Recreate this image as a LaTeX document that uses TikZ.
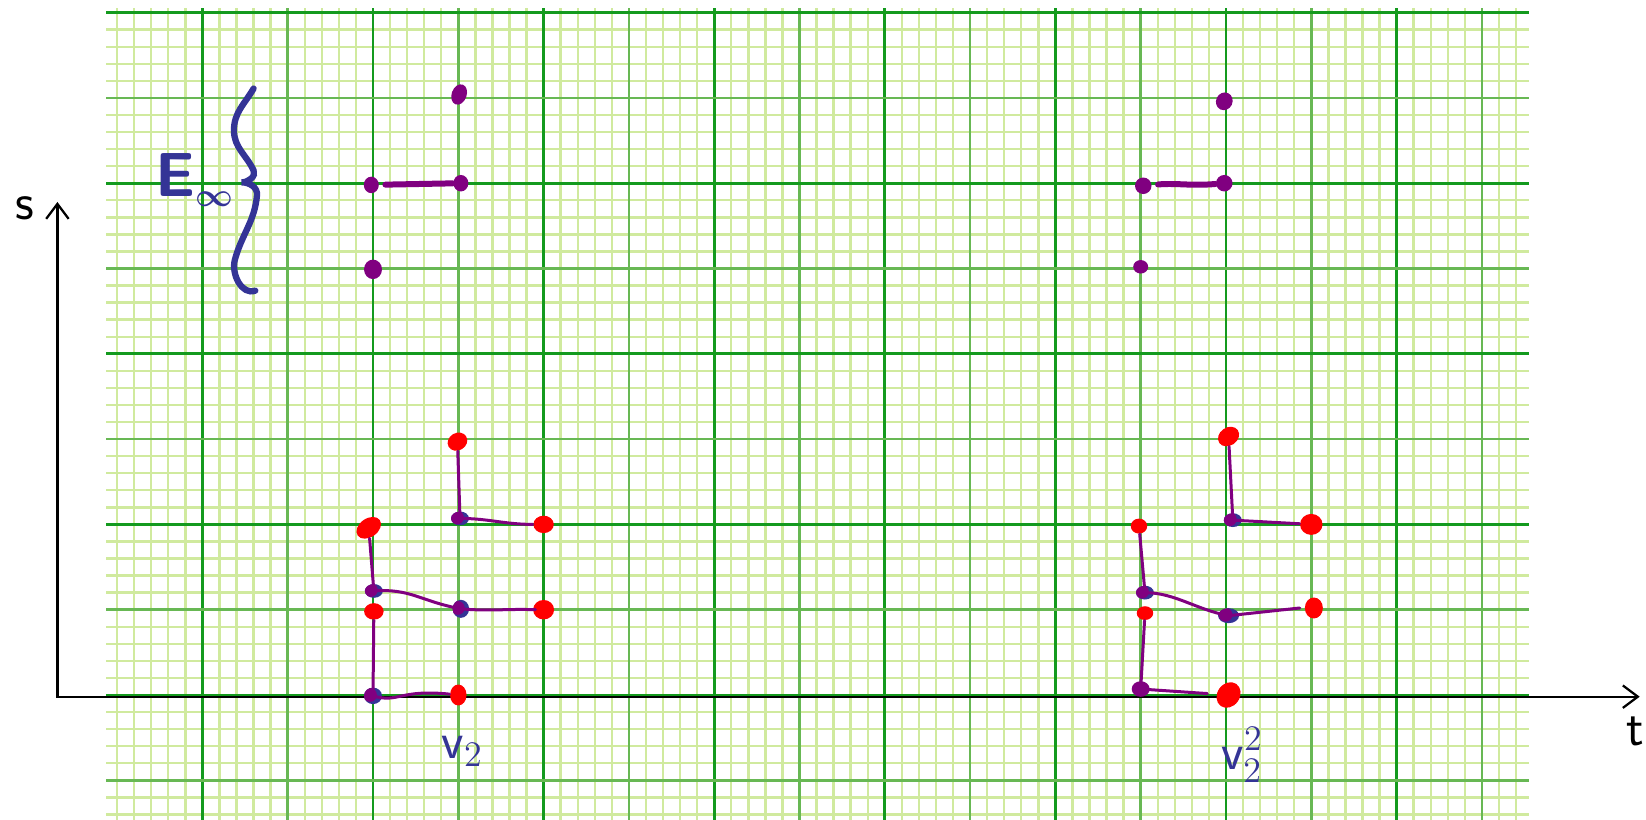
\documentclass[tikz,border=0pt]{standalone}
\usetikzlibrary{arrows.meta,shapes.geometric}

\definecolor{gridminor}{RGB}{208,234,158}
\definecolor{gridmid}{RGB}{104,184,84}
\definecolor{gridmajor}{RGB}{20,154,30}
\definecolor{inkpurple}{RGB}{128,0,128}
\definecolor{inkblue}{RGB}{52,52,150}
\definecolor{inkred}{RGB}{255,0,0}

\begin{document}
\begin{tikzpicture}[
    minorline/.style={gridminor, line width=0.8pt},
    midline/.style={gridmid, line width=0.85pt},
    majorline/.style={gridmajor, line width=0.95pt},
    axis/.style={black, line width=0.75pt,
        {Straight Barb[length=5pt,width=7.5pt]}-{Straight Barb[length=5pt,width=7.5pt]}},
    pdot/.style={ellipse, fill=inkpurple, inner sep=0pt,
        minimum width=5pt, minimum height=5.5pt},
    rdot/.style={ellipse, fill=inkred, inner sep=0pt,
        minimum width=6.8pt, minimum height=5.8pt},
    jdot/.style={ellipse, fill=inkblue, inner sep=0pt,
        minimum width=6pt, minimum height=4.6pt,
        path picture={\fill[inkpurple]
            ([xshift=-1pt,yshift=0.3pt]path picture bounding box.center) circle (2.3pt);}},
    topline/.style={inkpurple, line width=2pt, line cap=round},
    link/.style={inkpurple, line width=1pt, line cap=round},
    hand/.style={inkblue, inner sep=0pt}
]
    \useasboundingbox (-4.373,-1.465) rectangle (14.924,8.148);
    \fill[white] (-4.373,-1.465) rectangle (14.924,8.148);

    % Graph paper
    \foreach \i in {-15,...,67}
        \draw[minorline] ({\i/5},-1.47) -- ({\i/5},8.05);
    \foreach \j in {-7,...,39}
        \draw[minorline] (-3.13,{\j/5}) -- (13.55,{\j/5});
    \foreach \x in {-1,1,...,13}
        \draw[midline] (\x,-1.47) -- (\x,8.05);
    \foreach \x in {-2,0,...,12}
        \draw[majorline] (\x,-1.47) -- (\x,8.05);
    \foreach \y in {-1,1,...,7}
        \draw[midline] (-3.13,\y) -- (13.55,\y);
    \foreach \y in {0,2,...,8}
        \draw[majorline] (-3.13,\y) -- (13.55,\y);

    % Axes
    \coordinate (stip) at (-3.70,5.78);
    \coordinate (ttip) at (14.85,-0.02);
    \draw[axis] (stip) |- (ttip);
    \node[font=\fontsize{19}{19}\selectfont] (slab) at (-4.08,5.70) {$\mathsf{s}$};
    \node[font=\fontsize{16}{16}\selectfont] (tlab) at (14.80,-0.42) {$\mathsf{t}$};

    % E infinity brace
    \node[hand, anchor=base west, font=\fontsize{22}{22}\selectfont\boldmath]
        (einf) at (-2.56,5.84) {$\mathsf{E}_{\scriptscriptstyle\infty}$};
    \draw[inkblue, line width=2.1pt, line cap=round]
        (-1.40,7.11) to[out=240,in=90] (-1.63,6.62)
        to[out=270,in=115] (-1.40,6.15) to[out=295,in=0] (-1.54,6.01)
        to[out=0,in=85] (-1.36,5.86) to[out=265,in=75] (-1.62,5.10)
        to[out=255,in=200] (-1.38,4.74);

    % Top rows, left
    \node[pdot, minimum width=5pt, minimum height=7pt, rotate=-20] (l17) at (1.01,7.04) {};
    \node[pdot] (l06) at (-0.02,5.98) {};
    \node[pdot] (l16) at (1.03,6.00) {};
    \node[pdot, minimum width=6pt, minimum height=6.5pt] (l05) at (0.00,4.99) {};
    \draw[topline, shorten <=2pt] (l06) -- (l16);

    % Top rows, right
    \node[pdot, minimum width=5.5pt, minimum height=6pt, rotate=-25] (r107) at (9.98,6.96) {};
    \node[pdot, minimum width=5.5pt] (r96) at (9.03,5.97) {};
    \node[pdot, minimum width=5.5pt] (r106) at (9.98,6.00) {};
    \node[pdot, minimum width=5pt, minimum height=4.5pt] (r95) at (9.00,5.02) {};
    \draw[topline, shorten <=2pt] (r96) to[out=5,in=185] (r106);

    % Bottom rows, left
    \node[rdot, rotate=30] (rl13) at (0.99,2.97) {};
    \node[rdot] (rl22) at (2.00,2.00) {};
    \node[rdot, minimum width=9pt, minimum height=6.2pt, rotate=35] (rl02) at (-0.05,1.96) {};
    \node[rdot, minimum width=7pt, minimum height=6.5pt] (rl21) at (2.00,1.00) {};
    \node[rdot, minimum width=6.5pt, minimum height=5.5pt] (rl01) at (0.01,0.98) {};
    \node[rdot, minimum width=5.5pt, minimum height=7pt] (rl10) at (1.00,0.00) {};
    \node[jdot] (jl12) at (1.02,2.07) {};
    \node[jdot] (jl01) at (0.01,1.22) {};
    \node[jdot, minimum width=5.5pt, minimum height=6pt] (jl11) at (1.03,1.01) {};
    \node[jdot, minimum height=5.5pt] (jl00) at (0.00,-0.01) {};
    \draw[link] (rl13) -- (jl12.center);
    \draw[link] (jl12.center) to[out=0,in=180] (rl22);
    \draw[link] (rl02) -- (jl01.center);
    \draw[link] (jl01.center) .. controls (0.45,1.25) and (0.55,1.10) .. (jl11.center);
    \draw[link] (jl11.center) to[out=-5,in=178] ([xshift=1pt]rl21.west);
    \draw[link] (rl01) -- (jl00.center);
    \draw[link] (jl00.center) .. controls (0.30,-0.10) and (0.30,0.07) .. (rl10);

    % Bottom rows, right
    \node[rdot, minimum width=7.5pt, minimum height=6pt, rotate=35] (rr13) at (10.03,3.03) {};
    \node[rdot, minimum width=7.5pt, minimum height=7pt] (rr22) at (11.00,2.00) {};
    \node[rdot, minimum width=5.5pt, minimum height=5pt] (rr02) at (8.98,1.98) {};
    \node[rdot, minimum width=6pt, minimum height=7pt] (rr21) at (11.03,1.02) {};
    \node[rdot, minimum width=5.5pt, minimum height=4.6pt] (rr01) at (9.05,0.96) {};
    \node[rdot, minimum width=7.5pt, minimum height=9pt, rotate=-35] (rr10) at (10.03,0.00) {};
    \node[jdot] (jr12) at (10.08,2.05) {};
    \node[jdot] (jr01) at (9.05,1.20) {};
    \node[jdot, minimum width=7pt, minimum height=5pt] (jr11) at (10.03,0.93) {};
    \node[pdot, minimum width=6pt, minimum height=5.2pt] (jr00) at (9.00,0.07) {};
    \draw[link] (rr13) -- (jr12.center);
    \draw[link] (jr12.center) -- (rr22);
    \draw[link] (rr02) -- (jr01.center);
    \draw[link] (jr01.center) .. controls (9.40,1.20) and (9.65,1.00) .. (jr11.center);
    \draw[link] (jr11.center) -- ([xshift=-1.5pt]rr21.west);
    \draw[link] (rr01) -- (jr00.center);
    \draw[link, shorten >=3pt] (jr00.center) -- (rr10);

    % Labels under the columns
    \node[hand, font=\fontsize{17}{17}\selectfont] (v2lab) at (1.05,-0.66) {$\mathsf{v}_2$};
    \node[hand, font=\fontsize{17}{17}\selectfont] (v22lab) at (10.19,-0.70) {$\mathsf{v}_2^2$};
\end{tikzpicture}
\end{document}
